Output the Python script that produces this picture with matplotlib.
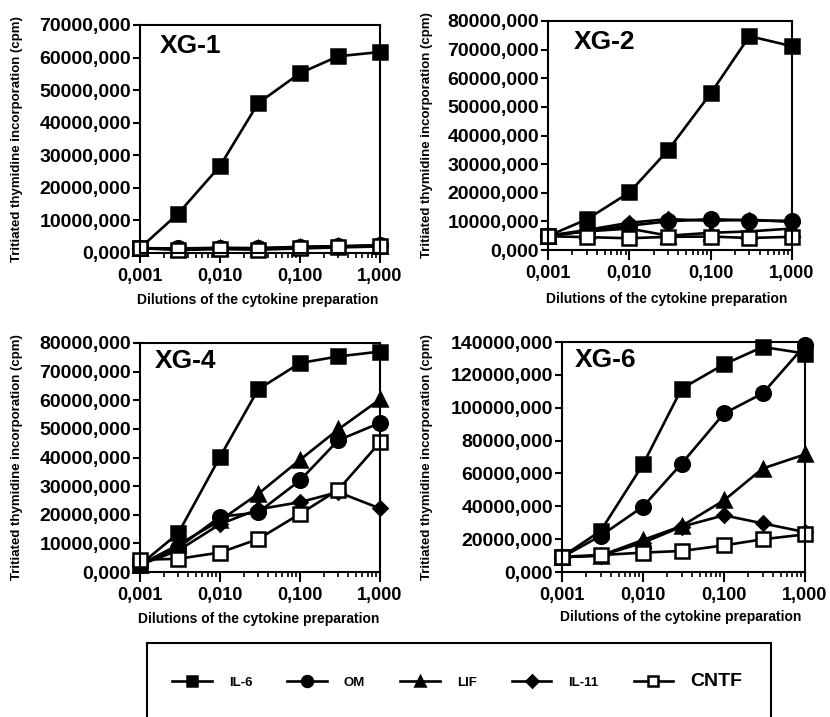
import matplotlib
matplotlib.use("Agg")
import matplotlib.pyplot as plt
from matplotlib.patches import Rectangle
from matplotlib.ticker import FixedLocator, FuncFormatter, LogLocator, NullFormatter

plt.rcParams['font.family'] = ['Liberation Sans', 'DejaVu Sans']
plt.rcParams['font.weight'] = 'bold'

# ---- data ----
dilutions = [0.001, 0.003, 0.01, 0.03, 0.1, 0.3, 1.0]
series_names = ["IL-6", "OM", "LIF", "IL-11", "CNTF"]

xg1_il6 = [1500, 12100, 26700, 46000, 55200, 60400, 61700]
xg1_om = [1500, 1400, 1600, 1500, 1900, 2100, 2400]
xg1_lif = [1500, 1300, 1500, 1400, 1800, 2000, 2300]
xg1_il11 = [1500, 1200, 1400, 1300, 1700, 1900, 2200]
xg1_cntf = [1500, 900, 1200, 1000, 1400, 1700, 2000]

xg2_il6 = [4900, 10700, 20100, 34900, 54700, 74700, 71200]
xg2_om = [5000, 6500, 8500, 10000, 10800, 10300, 10200]
xg2_lif = [5000, 6500, 7500, 5000, 6000, 6500, 7500]
xg2_il11 = [5000, 7000, 9500, 10800, 10200, 10600, 9800]
xg2_cntf = [4800, 4500, 4100, 4600, 4700, 4200, 4600]

xg4_il6 = [2500, 13500, 40200, 63800, 73000, 75300, 77000]
xg4_om = [2500, 8500, 19300, 20800, 32000, 46000, 52100]
xg4_lif = [2500, 9500, 18000, 27300, 39200, 49800, 60300]
xg4_il11 = [2500, 7500, 16700, 21900, 24400, 27900, 22200]
xg4_cntf = [4300, 4600, 6800, 11500, 20300, 28700, 45300]

xg6_il6 = [9300, 25000, 65500, 111600, 126400, 137000, 133000]
xg6_om = [9000, 22000, 39800, 66000, 96500, 108700, 138000]
xg6_lif = [9000, 10000, 19500, 28000, 43600, 63000, 71600]
xg6_il11 = [9000, 10000, 17800, 27600, 34500, 29600, 24300]
xg6_cntf = [9300, 10300, 11800, 12800, 16200, 19900, 22900]

panels = [
    ("XG-1", [xg1_il6, xg1_om, xg1_lif, xg1_il11, xg1_cntf], 70000, 10000),
    ("XG-2", [xg2_il6, xg2_om, xg2_lif, xg2_il11, xg2_cntf], 80000, 10000),
    ("XG-4", [xg4_il6, xg4_om, xg4_lif, xg4_il11, xg4_cntf], 80000, 10000),
    ("XG-6", [xg6_il6, xg6_om, xg6_lif, xg6_il11, xg6_cntf], 140000, 20000),
]
x_ticks = [0.001, 0.01, 0.1, 1.0]

# ---- layout (figure fractions) ----
W, H = 830, 717
def rect(l, r, t, b):
    return [l / W, 1 - b / H, (r - l) / W, (b - t) / H]

axes_rects = [rect(140, 380, 25, 253), rect(548, 792, 21, 250),
              rect(140, 380, 343, 572), rect(562, 805, 342, 572)]
title_pos = [(0.083, 0.908), (0.107, 0.91), (0.0625, 0.921), (0.053, 0.921)]
ylabel_x = [-0.4875, -0.471, -0.4875, -0.531]
xlabel_pos = [(0.49, -0.175), (0.485, -0.183), (0.496, -0.175), (0.49, -0.166)]

styles = [
    dict(marker='s', markerfacecolor='black', markersize=10.5),
    dict(marker='o', markerfacecolor='black', markersize=10.5),
    dict(marker='^', markerfacecolor='black', markersize=10.5),
    dict(marker='D', markerfacecolor='black', markersize=7.5),
    dict(marker='s', markerfacecolor='white', markersize=10.5),
]

fig = plt.figure(figsize=(W / 100, H / 100), dpi=100)
fig.patch.set_facecolor('white')

handles = None
for i, (name, data, ymax, ystep) in enumerate(panels):
    ax = fig.add_axes(axes_rects[i])
    lines = []
    for vals, st in zip(data, styles):
        ln, = ax.plot(dilutions, vals, color='black', linewidth=1.9,
                      markeredgecolor='black', markeredgewidth=1.8,
                      clip_on=False, **st)
        lines.append(ln)
    if handles is None:
        handles = lines
    ax.set_xscale('log')
    ax.set_xlim(0.001, 1.0)
    ax.set_ylim(0, ymax)
    ax.xaxis.set_major_locator(FixedLocator(x_ticks))
    ax.xaxis.set_minor_locator(LogLocator(base=10, subs=range(2, 10)))
    ax.xaxis.set_minor_formatter(NullFormatter())
    ax.xaxis.set_major_formatter(FuncFormatter(lambda v, p: f"{v:.3f}".replace('.', ',')))
    ax.yaxis.set_major_locator(FixedLocator(list(range(0, ymax + 1, ystep))))
    ax.yaxis.set_major_formatter(FuncFormatter(lambda v, p: f"{v:.3f}".replace('.', ',')))
    for sp in ax.spines.values():
        sp.set_linewidth(1.5)
    ax.tick_params(axis='y', which='major', direction='out', length=5, width=1.5,
                   pad=1.5, labelsize=14)
    ax.tick_params(axis='x', which='major', direction='out', length=7, width=1.5,
                   pad=4, labelsize=13)
    ax.tick_params(axis='x', which='minor', direction='out', length=3.5, width=1.2)
    for lab in ax.get_xticklabels() + ax.get_yticklabels():
        lab.set_fontweight('bold')
    ax.set_ylabel("Tritiated thymidine incorporation (cpm)", fontsize=9.5, fontweight='bold')
    ax.yaxis.set_label_coords(ylabel_x[i], 0.5)
    ax.set_xlabel("Dilutions of the cytokine preparation", fontsize=10, fontweight='bold')
    ax.xaxis.set_label_coords(*xlabel_pos[i])
    ax.text(title_pos[i][0], title_pos[i][1], name, transform=ax.transAxes,
            fontsize=19, fontweight='bold', ha='left', va='center')

# ---- legend ----
fig.add_artist(Rectangle((147 / W, -0.05), 624 / W, 1 - 643 / H + 0.05,
                         transform=fig.transFigure, fill=False,
                         edgecolor='black', linewidth=1.5))
leg = fig.legend(handles, series_names, loc='center left',
                 bbox_to_anchor=(172 / W, 1 - 681 / H), ncol=5, frameon=False,
                 fontsize=9.5, handlelength=3.0, handletextpad=1.3,
                 columnspacing=2.65, borderpad=0, borderaxespad=0, markerscale=0.75)
for t in leg.get_texts():
    t.set_fontweight('bold')
leg.get_texts()[-1].set_fontsize(14)

fig.savefig("out.png", dpi=100, facecolor='white')
